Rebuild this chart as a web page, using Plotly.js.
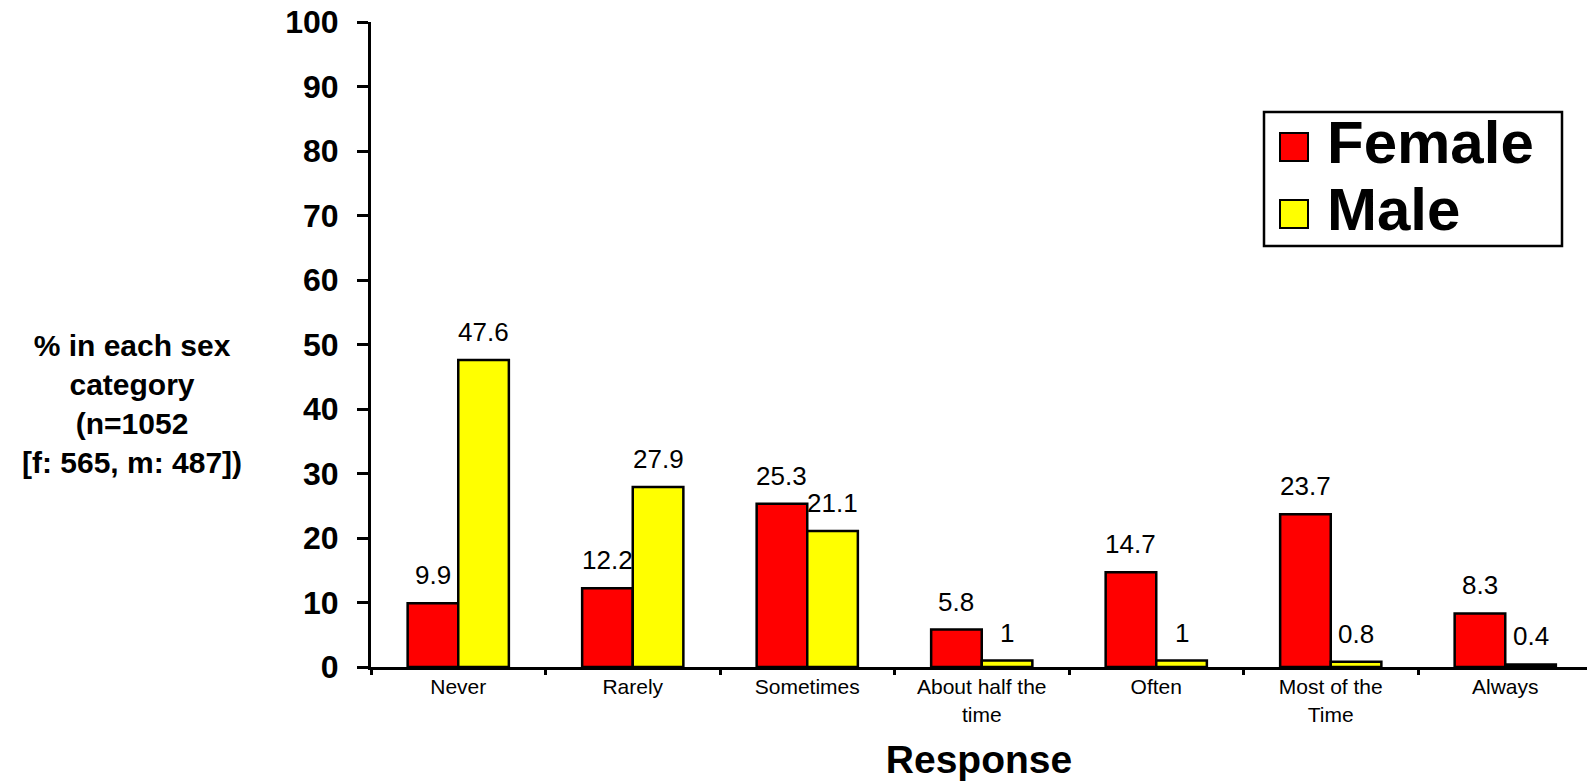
<!DOCTYPE html>
<html>
<head>
<meta charset="utf-8">
<script src="https://cdn.plot.ly/plotly-3.0.1.min.js"></script>
<style>html,body{margin:0;padding:0;background:#fff;}#chart{width:1587px;height:783px;}</style>
</head>
<body>
<div id="chart"></div>
<script>
const categories = ["Never", "Rarely", "Sometimes", "About half the<br>time", "Often", "Most of the<br>Time", "Always"];
const female = [9.9, 12.2, 25.3, 5.8, 14.7, 23.7, 8.3];
const male = [47.6, 27.9, 21.1, 1, 1, 0.8, 0.4];
const seriesNames = ["Female", "Male"];
const seriesColors = ["#FF0000", "#FFFF00"];
const yTicks = [0, 10, 20, 30, 40, 50, 60, 70, 80, 90, 100];

const W = 1587, H = 783;
const M = {l: 371, r: 0, t: 22, b: 116};
const pw = W - M.l - M.r, ph = H - M.t - M.b;
const px = x => (x - M.l) / pw;
const py = y => (H - M.b - y) / ph;

const FONT = 'Liberation Sans, Arial, Helvetica, sans-serif';
const bargap = 0.42;
const half = (1 - bargap) / 4;

const traces = [female, male].map((vals, k) => ({
  type: 'bar',
  name: seriesNames[k],
  x: categories,
  y: vals,
  marker: {color: seriesColors[k], line: {color: '#000', width: 2.5}},
  showlegend: false,
  hoverinfo: 'x+y'
}));

const annotations = [];
[female, male].forEach((vals, k) => {
  vals.forEach((v, i) => {
    annotations.push({
      x: i + (k === 0 ? -half : half), xref: 'x',
      y: v, yref: 'y',
      text: String(v), showarrow: false,
      xanchor: 'center', yanchor: 'bottom', yshift: 11,
      font: {family: FONT, size: 26, color: '#000'}
    });
  });
});
// y-axis title (horizontal, multi-line)
annotations.push({
  xref: 'paper', yref: 'paper', x: px(132), y: py(404),
  xanchor: 'center', yanchor: 'middle', showarrow: false,
  text: '<b>% in each sex<br>category<br>(n=1052<br>[f: 565, m: 487])</b>',
  font: {family: FONT, size: 30, color: '#000'}, align: 'center'
});
// legend texts
annotations.push({
  xref: 'paper', yref: 'paper', x: px(1325), y: py(143),
  xanchor: 'left', yanchor: 'middle', showarrow: false,
  text: '<b>' + seriesNames[0] + '</b>', font: {family: FONT, size: 60, color: '#000'}
});
annotations.push({
  xref: 'paper', yref: 'paper', x: px(1325), y: py(209),
  xanchor: 'left', yanchor: 'middle', showarrow: false,
  text: '<b>' + seriesNames[1] + '</b>', font: {family: FONT, size: 60, color: '#000'}
});

const shapes = [
  {type: 'rect', xref: 'paper', yref: 'paper', x0: px(1264), x1: px(1562), y0: py(112), y1: py(246),
   line: {color: '#000', width: 2.5}, fillcolor: '#fff', layer: 'above'},
  {type: 'rect', xref: 'paper', yref: 'paper', x0: px(1280), x1: px(1308), y0: py(133), y1: py(161),
   line: {color: '#000', width: 2}, fillcolor: seriesColors[0], layer: 'above'},
  {type: 'rect', xref: 'paper', yref: 'paper', x0: px(1280), x1: px(1308), y0: py(200), y1: py(228),
   line: {color: '#000', width: 2}, fillcolor: seriesColors[1], layer: 'above'}
];

const layout = {
  width: W, height: H,
  margin: M,
  paper_bgcolor: '#fff', plot_bgcolor: '#fff',
  barmode: 'group', bargap: bargap, bargroupgap: 0,
  font: {family: FONT, color: '#000'},
  xaxis: {
    type: 'category',
    range: [-0.5, -0.5 + pw / 174.5],
    showline: true, linecolor: '#000', linewidth: 3,
    ticks: 'outside', tickson: 'boundaries', ticklen: 5, tickwidth: 3, tickcolor: '#000',
    tickfont: {family: FONT, size: 21, color: '#000'},
    showgrid: false, zeroline: false,
    ticklabelstandoff: -1,
    title: {text: '<b>Response</b>', font: {family: FONT, size: 39, color: '#000'}, standoff: 22}
  },
  yaxis: {
    range: [0, 100],
    tickvals: yTicks, ticktext: yTicks.map(String),
    showline: true, linecolor: '#000', linewidth: 3,
    ticks: 'outside', ticklen: 11, tickwidth: 3, tickcolor: '#000',
    tickfont: {family: FONT, size: 32, color: '#000', weight: 'bold'},
    ticklabelstandoff: 12,
    showgrid: false, zeroline: false
  },
  annotations: annotations,
  shapes: shapes,
  showlegend: false
};

Plotly.newPlot('chart', traces, layout, {displayModeBar: false, staticPlot: true});
</script>
</body>
</html>
